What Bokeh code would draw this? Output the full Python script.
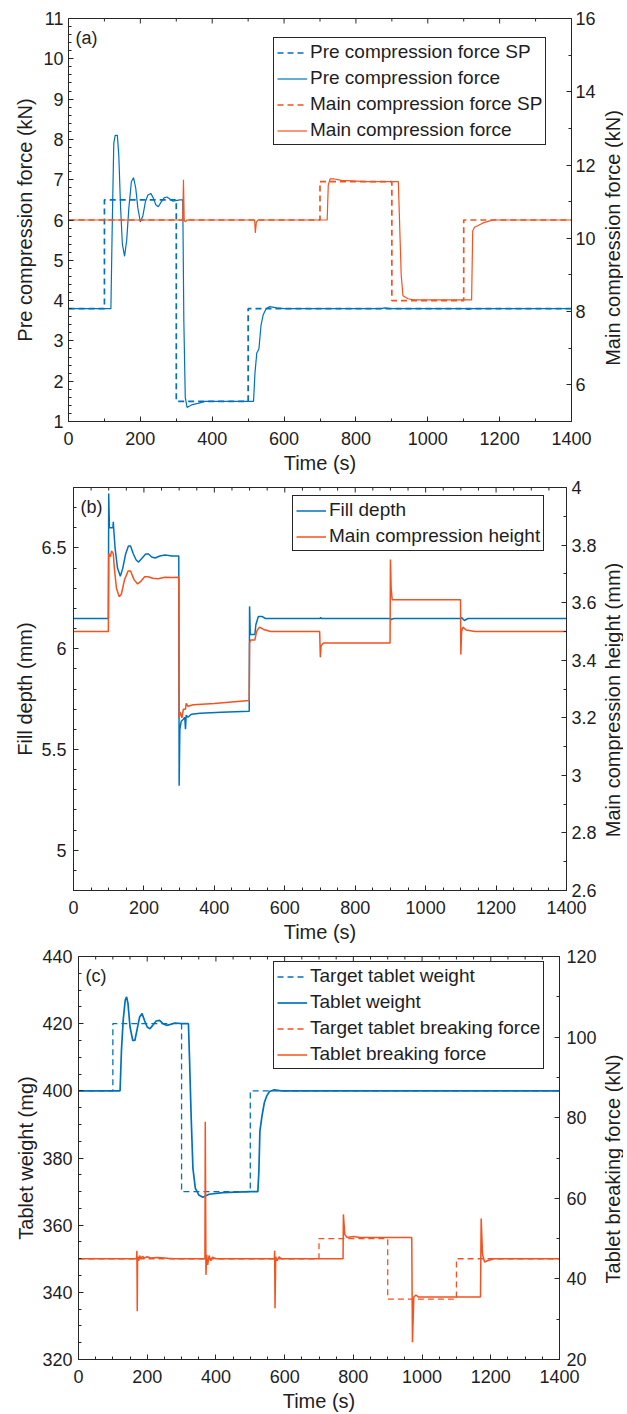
import math
import numpy as np
from bokeh.plotting import figure
from bokeh.models import Range1d, LinearAxis, FixedTicker, Legend, LegendItem, Label
from bokeh.layouts import column, row
from bokeh.embed import file_html
from bokeh.resources import INLINE

FONT = "Liberation Sans"
TXT = "#1e1e1e"
AX = "#262626"
BLUE = "#0072BD"
ORANGE = "#F5521F"

# ---------------- panel (a) data ----------------
a_pre_sp_t = [0, 100, 100, 300, 300, 500, 500, 1400]
a_pre_sp = [3.8, 3.8, 6.5, 6.5, 1.5, 1.5, 3.8, 3.8]
a_pre_t = [0, 118, 122, 126, 130, 136, 140, 145, 150, 156, 162, 168, 175, 181, 187, 193, 200, 207, 214, 221,
           229, 236, 243, 250, 258, 266, 274, 282, 290, 298, 310, 318, 321, 325, 330, 336, 345, 360, 380, 500,
           515, 519, 524, 530, 536, 542, 550, 560, 580, 600, 870, 880, 895, 1105, 1112, 1125, 1400]
a_pre = [3.8, 3.8, 6.0, 7.9, 8.1, 8.1, 7.6, 6.3, 5.4, 5.1, 5.5, 6.3, 6.95, 7.05, 6.8, 6.3, 5.95, 6.1, 6.45, 6.62,
         6.66, 6.55, 6.38, 6.33, 6.45, 6.55, 6.57, 6.52, 6.47, 6.48, 6.5, 6.5, 3.5, 1.6, 1.35, 1.38, 1.42, 1.45, 1.5, 1.5,
         1.5, 2.2, 2.7, 2.8, 3.4, 3.65, 3.8, 3.85, 3.82, 3.8, 3.8, 3.82, 3.8, 3.8, 3.78, 3.8, 3.8]
a_main_sp_t = [0, 700, 700, 900, 900, 1100, 1100, 1400]
a_main_sp = [10.5, 10.5, 11.55, 11.55, 8.3, 8.3, 10.5, 10.5]
a_main_t = [0, 318, 320, 322, 325, 330, 518, 520, 523, 528, 720, 723, 728, 740, 760, 830, 918, 921, 926, 931,
            945, 960, 1122, 1125, 1130, 1140, 1154, 1170, 1182, 1400]
a_main = [10.5, 10.5, 11.6, 10.5, 10.45, 10.5, 10.5, 10.15, 10.45, 10.5, 10.5, 11.45, 11.62, 11.62, 11.58, 11.55,
          11.55, 10.6, 9.0, 8.43, 8.35, 8.32, 8.32, 10.2, 10.3, 10.35, 10.42, 10.47, 10.5, 10.5]

# ---------------- panel (b) data ----------------
b_fill_t = [0, 99, 100, 102, 112, 113, 114, 118, 125, 133, 140, 148, 156, 162, 170, 178, 185, 195, 205, 213,
            222, 232, 245, 260, 280, 299, 300, 302, 306, 312, 316, 318, 320, 325, 335, 360, 420, 499, 500, 502,
            515, 518, 525, 535, 545, 700, 702, 704, 900, 902, 910, 1100, 1102, 1110, 1120, 1400]
b_fill = [6.15, 6.15, 6.77, 6.6, 6.6, 6.63, 6.6, 6.5, 6.4, 6.36, 6.4, 6.47, 6.51, 6.51, 6.47, 6.44, 6.43, 6.45, 6.47, 6.47,
          6.455, 6.45, 6.46, 6.465, 6.46, 6.46, 5.32, 5.6, 5.64, 5.65, 5.66, 5.6, 5.67, 5.66, 5.675, 5.68, 5.685, 5.69, 6.21, 6.07,
          6.07, 6.12, 6.16, 6.16, 6.15, 6.15, 6.155, 6.15, 6.15, 6.145, 6.15, 6.15, 6.155, 6.14, 6.15, 6.15]
b_height_t = [0, 99, 100, 105, 108, 113, 116, 122, 130, 136, 145, 155, 162, 172, 182, 192, 202, 212, 225, 240,
              260, 280, 299, 300, 303, 308, 312, 318, 320, 325, 340, 400, 499, 500, 503, 515, 520, 528, 540, 560,
              699, 701, 703, 710, 899, 900, 902, 905, 1099, 1100, 1102, 1106, 1115, 1140, 1400]
b_height = [3.5, 3.5, 3.77, 3.76, 3.78, 3.77, 3.72, 3.65, 3.62, 3.63, 3.68, 3.71, 3.71, 3.68, 3.665, 3.675, 3.69, 3.69, 3.685, 3.683,
            3.688, 3.687, 3.688, 3.2, 3.22, 3.2, 3.23, 3.23, 3.25, 3.24, 3.245, 3.25, 3.26, 3.46, 3.47, 3.47, 3.5, 3.515, 3.507, 3.5,
            3.5, 3.41, 3.45, 3.46, 3.46, 3.75, 3.65, 3.61, 3.61, 3.42, 3.5, 3.515, 3.505, 3.5, 3.5]

# ---------------- panel (c) data ----------------
c_wt_sp_t = [0, 100, 100, 300, 300, 500, 500, 1400]
c_wt_sp = [400, 400, 420, 420, 370, 370, 400, 400]
c_wt_t = [0, 121, 125, 130, 136, 140, 144, 150, 158, 164, 170, 178, 185, 192, 200, 208, 216, 226, 236, 246,
          256, 268, 280, 300, 320, 323, 328, 333, 340, 350, 362, 380, 420, 500, 522, 525, 528, 534, 541, 548,
          556, 570, 590, 1400]
c_wt = [400, 400, 412, 421, 427, 428, 426, 419, 415, 415, 418, 422, 423, 421, 419, 418.5, 419.5, 420.8, 421, 420,
        419.5, 419.8, 420.2, 420, 420, 410, 392, 377, 371, 369, 368.3, 369.2, 369.7, 370, 370, 376, 388, 392.5, 396.5, 398.5,
        399.8, 400.3, 400, 400]
c_bf_sp_t = [0, 700, 700, 900, 900, 1100, 1100, 1400]
c_bf_sp = [45, 45, 50, 50, 35, 35, 45, 45]
c_bf_t = [0, 169, 170, 171, 172, 175, 178, 182, 186, 192, 200, 210, 230, 260, 280, 368, 369, 371, 373, 376,
          380, 385, 390, 400, 570, 571, 572, 574, 578, 584, 590, 770, 771, 775, 782, 800, 820, 970, 972, 976,
          982, 990, 1170, 1172, 1176, 1182, 1190, 1210, 1400]
c_bf = [45, 45, 47, 32, 45.5, 44.5, 45.8, 45, 45.6, 45.2, 45.5, 45.2, 45.3, 45.1, 45, 45, 79, 41, 46, 43.5,
        45.8, 44.5, 45.4, 45, 45, 47, 32.7, 45.5, 44.5, 45.5, 45, 45, 56, 51, 50.3, 50.5, 50.3, 50.3, 24.3, 35.5,
        36, 35.5, 35.5, 55, 46, 44.2, 44.5, 45, 45]

# ---------------- ticks ----------------
x_ticks = [0, 200, 400, 600, 800, 1000, 1200, 1400]
a_yl_ticks = [1, 2, 3, 4, 5, 6, 7, 8, 9, 10, 11]
a_yr_ticks = [6, 8, 10, 12, 14, 16]
b_yl_ticks = [5, 5.5, 6, 6.5]
b_yr_ticks = [2.6, 2.8, 3, 3.2, 3.4, 3.6, 3.8, 4]
c_yl_ticks = [320, 340, 360, 380, 400, 420, 440]
c_yr_ticks = [20, 40, 60, 80, 100, 120]

FRAME_H = 403
SIDE_W = 22


def minors(lo, hi, step, majors):
    vals = np.round(np.arange(lo, hi + step / 2, step), 6)
    return [float(v) for v in vals if all(abs(v - m) > 1e-6 for m in majors)]


def jskey(v):
    return str(int(v)) if float(v).is_integer() else repr(float(v))


def style_axis(ax, ticks, minor, standoff, label_standoff=None):
    ax.ticker = FixedTicker(ticks=ticks, minor_ticks=minor)
    ax.major_label_overrides = {jskey(t): jskey(t) for t in ticks}
    ax.major_tick_in = 5
    ax.major_tick_out = 0
    ax.minor_tick_in = 3
    ax.minor_tick_out = 0
    ax.axis_line_color = AX
    ax.major_tick_line_color = AX
    ax.minor_tick_line_color = AX
    ax.major_label_text_font = FONT
    ax.major_label_text_font_size = "18px"
    ax.major_label_text_color = TXT
    ax.major_label_standoff = standoff
    ax.axis_label_text_font = FONT
    ax.axis_label_text_font_size = "20px"
    ax.axis_label_text_font_style = "normal"
    ax.axis_label_text_color = TXT
    if label_standoff is not None:
        ax.axis_label_standoff = label_standoff


def make_panel(fw, bl, br, bt, bb, yl_rng, yr_rng, yl_ticks, yl_minor, yr_ticks, yr_minor, x_minor,
               ylab, l_so, l_lso, r_so, tag):
    fh = FRAME_H
    p = figure(frame_width=fw, frame_height=fh, x_range=Range1d(0, 1400), y_range=Range1d(*yl_rng),
               output_backend="svg", toolbar_location=None,
               min_border_left=bl, min_border_right=br, min_border_top=bt, min_border_bottom=bb)
    p.extra_y_ranges = {"r": Range1d(*yr_rng)}
    p.xgrid.visible = False
    p.ygrid.visible = False
    p.outline_line_color = AX
    p.outline_line_width = 1
    p.outline_line_alpha = 1
    p.background_fill_color = "white"
    p.border_fill_color = "white"

    style_axis(p.xaxis[0], x_ticks, x_minor, 10, 4)
    p.xaxis[0].axis_label = "Time (s)"
    style_axis(p.yaxis[0], yl_ticks, yl_minor, l_so, l_lso)
    p.yaxis[0].axis_label = ylab

    ra = LinearAxis(y_range_name="r")
    style_axis(ra, yr_ticks, yr_minor, r_so)
    p.add_layout(ra, "right")

    # mirrored x ticks on the top edge of the box
    lo, hi = yl_rng
    dmaj = (hi - lo) * 5 / fh
    dmin = (hi - lo) * 3 / fh
    p.segment(x0=x_ticks, y0=[hi] * len(x_ticks), x1=x_ticks, y1=[hi - dmaj] * len(x_ticks),
              line_color=AX, line_width=1)
    p.segment(x0=x_minor, y0=[hi] * len(x_minor), x1=x_minor, y1=[hi - dmin] * len(x_minor),
              line_color=AX, line_width=1)

    p.add_layout(Label(x=7, y=fh - 19, x_units="screen", y_units="screen", text=tag,
                       text_font=FONT, text_font_size="18px", text_color=TXT,
                       text_baseline="middle", text_align="left"))
    return p


def side_title(text, bt, bb):
    """Narrow strip carrying the right-hand axis title, reading bottom to top."""
    total_h = bt + FRAME_H + bb
    f = figure(frame_width=SIDE_W, frame_height=total_h, x_range=Range1d(0, 1), y_range=Range1d(0, 1),
               output_backend="svg", toolbar_location=None, x_axis_location=None, y_axis_location=None,
               min_border_left=0, min_border_right=0, min_border_top=0, min_border_bottom=0)
    f.grid.visible = False
    f.outline_line_color = None
    f.background_fill_color = "white"
    f.border_fill_color = "white"
    f.add_layout(Label(x=SIDE_W / 2, y=total_h - (bt + FRAME_H / 2), x_units="screen", y_units="screen",
                       text=text, angle=math.pi / 2, angle_units="rad",
                       text_font=FONT, text_font_size="20px", text_color=TXT,
                       text_align="center", text_baseline="middle"))
    return f


def add_legend(p, items, loc):
    leg = Legend(items=items, location=loc, orientation="vertical",
                 label_text_font=FONT, label_text_font_size="19px", label_text_color=TXT,
                 label_height=21, glyph_height=21, glyph_width=30, label_standoff=3,
                 spacing=4, padding=3, margin=0,
                 border_line_color=AX, border_line_width=1, border_line_alpha=1,
                 background_fill_color="white", background_fill_alpha=1)
    p.add_layout(leg)


x_minor_a = minors(0, 1400, 100, x_ticks)
x_minor_bc = minors(0, 1400, 50, x_ticks)

# ---------- panel a ----------
pa = make_panel(503, 68, 30, 18, 55, (1, 11), (5, 16), a_yl_ticks, minors(1, 11, 0.2, a_yl_ticks),
                a_yr_ticks, minors(5, 16, 1, a_yr_ticks), x_minor_a,
                "Pre compression force (kN)", 5, 4, 4, "(a)")
r1 = pa.line(a_pre_sp_t, a_pre_sp, line_color=BLUE, line_width=1.7, line_dash="6 4")
r2 = pa.line(a_pre_t, a_pre, line_color=BLUE, line_width=1.2)
r3 = pa.line(a_main_sp_t, a_main_sp, line_color=ORANGE, line_width=1.7, line_dash="6 4", y_range_name="r")
r4 = pa.line(a_main_t, a_main, line_color=ORANGE, line_width=1.2, y_range_name="r")
add_legend(pa, [LegendItem(label="Pre compression force SP", renderers=[r1]),
                LegendItem(label="Pre compression force", renderers=[r2]),
                LegendItem(label="Main compression force SP", renderers=[r3]),
                LegendItem(label="Main compression force", renderers=[r4])], (205, 276))
ta = side_title("Main compression force (kN)", 18, 55)

# ---------- panel b ----------
pb = make_panel(493, 73, 35, 11, 54, (4.8, 6.8), (2.6, 4.0), b_yl_ticks, minors(4.8, 6.8, 0.1, b_yl_ticks),
                b_yr_ticks, minors(2.6, 4.0, 0.1, b_yr_ticks), x_minor_bc,
                "Fill depth (mm)", 7, 2, 5, "(b)")
s1 = pb.line(b_fill_t, b_fill, line_color=BLUE, line_width=1.5)
s2 = pb.line(b_height_t, b_height, line_color=ORANGE, line_width=1.5, y_range_name="r")
add_legend(pb, [LegendItem(label="Fill depth", renderers=[s1]),
                LegendItem(label="Main compression height", renderers=[s2])], (219, 339))
tb = side_title("Main compression height (mm)", 11, 54)

# ---------- panel c ----------
pc = make_panel(481, 78, 42, 11, 55, (320, 440), (20, 120), c_yl_ticks, minors(320, 440, 5, c_yl_ticks),
                c_yr_ticks, minors(20, 120, 10, c_yr_ticks), x_minor_bc,
                "Tablet weight (mg)", 6, 2, 7, "(c)")
q1 = pc.line(c_wt_sp_t, c_wt_sp, line_color=BLUE, line_width=1.3, line_dash="6 4")
q2 = pc.line(c_wt_t, c_wt, line_color=BLUE, line_width=1.7)
q3 = pc.line(c_bf_sp_t, c_bf_sp, line_color=ORANGE, line_width=1.3, line_dash="6 4", y_range_name="r")
q4 = pc.line(c_bf_t, c_bf, line_color=ORANGE, line_width=1.5, y_range_name="r")
add_legend(pc, [LegendItem(label="Target tablet weight", renderers=[q1]),
                LegendItem(label="Tablet weight", renderers=[q2]),
                LegendItem(label="Target tablet breaking force", renderers=[q3]),
                LegendItem(label="Tablet breaking force", renderers=[q4])], (195, 290))
tc = side_title("Tablet breaking force (kN)", 11, 55)

layout = column(row(pa, ta, spacing=0), row(pb, tb, spacing=0), row(pc, tc, spacing=0), spacing=0)
open("out.html", "w").write(file_html(layout, INLINE))
